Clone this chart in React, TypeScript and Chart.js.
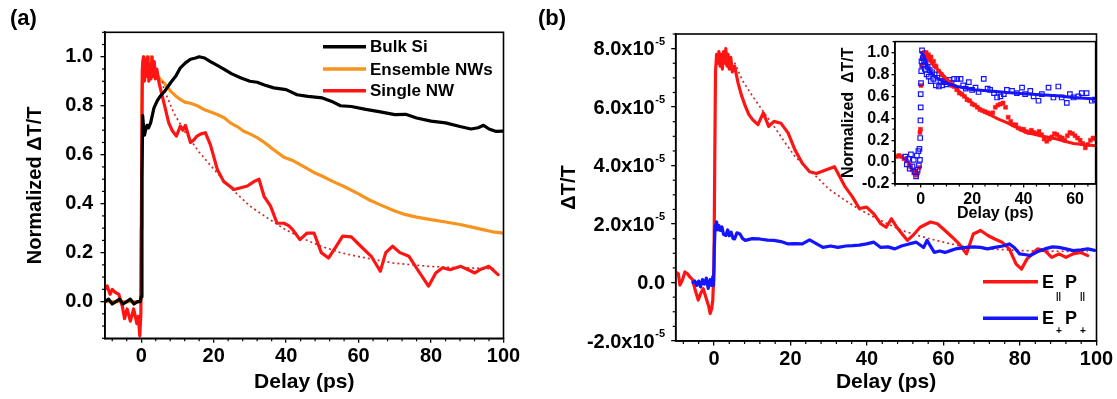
import React, { useEffect, useRef } from 'react';
import { Chart, registerables } from 'chart.js';

Chart.register(...registerables);

const FONT = "'Liberation Sans', Arial, Helvetica, sans-serif";

type Pt = [number, number];

// ---------------- Panel (a) data ----------------
const aXTicks = [0, 20, 40, 60, 80, 100];
const aYTicks = [0, 0.2, 0.4, 0.6, 0.8, 1.0];
const aLegend = ['Bulk Si', 'Ensemble NWs', 'Single NW'];

const bulkSi: Pt[] = [
  [-10, 0.0], [-9, 0.01], [-8, -0.01], [-7, 0.0], [-6, 0.01], [-5, -0.01], [-4, 0.0], [-3, 0.01],
  [-2, -0.01], [-1, 0.0], [-0.3, 0.0], [0, 0.02], [0.2, 0.5], [0.4, 0.76], [0.6, 0.72], [0.9, 0.68],
  [1.2, 0.7], [1.6, 0.72], [2.0, 0.71], [2.6, 0.73], [3.5, 0.79], [4.4, 0.82], [5.3, 0.84], [6.5, 0.86],
  [8.1, 0.894], [9.5, 0.92], [10.8, 0.955], [12.2, 0.975], [13.6, 0.99], [15.0, 0.995], [16.0, 1.0],
  [17.5, 0.995], [19.1, 0.98], [21, 0.965], [22.8, 0.95], [25, 0.93], [27.4, 0.914], [30, 0.9],
  [32, 0.896], [34, 0.885], [36.6, 0.873], [40, 0.866], [43, 0.845], [46, 0.838], [50, 0.832],
  [53, 0.815], [55, 0.8], [58, 0.797], [62, 0.785], [66, 0.775], [70, 0.764], [73, 0.765], [76, 0.75],
  [80, 0.737], [84, 0.73], [88, 0.715], [91, 0.705], [93, 0.71], [94.5, 0.72], [96, 0.705], [98, 0.695], [100, 0.696],
];

const ensembleNWs: Pt[] = [
  [-10, 0], [-5, 0], [-0.2, 0], [0, 0.3], [0.2, 0.8], [0.4, 0.98], [0.8, 1.0], [1.2, 0.96], [1.6, 1.0],
  [2.0, 0.97], [2.5, 1.0], [3.0, 0.96], [3.5, 0.94], [4.2, 0.93], [5.3, 0.907], [6.5, 0.89], [8.1, 0.86],
  [9.5, 0.84], [10.8, 0.826], [12, 0.815], [13.6, 0.81], [15.5, 0.8], [17.3, 0.785], [19, 0.775],
  [21, 0.764], [23, 0.75], [24.6, 0.73], [26.5, 0.715], [28.3, 0.696], [30, 0.685], [32, 0.67],
  [34, 0.65], [35.7, 0.63], [37.5, 0.61], [39.4, 0.59], [42, 0.575], [45, 0.55], [48, 0.525],
  [50, 0.512], [53, 0.49], [56, 0.47], [60, 0.44], [63, 0.415], [66, 0.395], [70, 0.37], [73, 0.355],
  [76, 0.345], [80, 0.335], [84, 0.325], [88, 0.315], [91, 0.305], [94, 0.295], [97, 0.285], [100, 0.28],
];

const singleNW: Pt[] = [
  [-10, 0.05], [-9.4, 0.064], [-8.6, 0.03], [-8, 0.05], [-7.1, 0.037], [-6.2, 0.03], [-5.2, -0.02],
  [-4.6, -0.07], [-3.9, -0.03], [-3.0, -0.08], [-2.1, -0.03], [-1.2, -0.09], [-0.8, -0.06], [-0.4, -0.14],
  [-0.1, -0.05], [0.1, 0.5], [0.3, 0.95], [0.6, 1.0], [0.9, 0.9], [1.2, 0.99], [1.5, 0.92], [1.8, 1.0],
  [2.1, 0.9], [2.4, 0.97], [2.7, 0.91], [3.0, 1.0], [3.3, 0.92], [3.6, 0.98], [3.9, 0.91], [4.3, 0.95],
  [4.9, 0.894], [5.8, 0.84], [6.7, 0.785], [7.6, 0.73], [8.5, 0.7], [9.7, 0.676], [10.8, 0.717],
  [11.5, 0.7], [12.2, 0.72], [13.6, 0.65], [14.5, 0.66], [15.4, 0.676], [16.5, 0.685], [17.7, 0.69],
  [19.1, 0.64], [21, 0.54], [22.8, 0.49], [25.6, 0.458], [27.5, 0.465], [29.3, 0.472], [31.1, 0.49],
  [32.5, 0.5], [33.9, 0.43], [35.7, 0.39], [37.5, 0.32], [39.4, 0.32], [40.7, 0.31], [41.8, 0.294],
  [43.8, 0.253], [45.8, 0.28], [47.7, 0.28], [49.7, 0.2], [51.7, 0.178], [53.6, 0.22], [55.6, 0.267],
  [58, 0.264], [60.6, 0.226], [63.5, 0.185], [66, 0.124], [67.5, 0.2], [69.4, 0.226], [71.4, 0.2],
  [73.9, 0.185], [76.3, 0.13], [79.3, 0.063], [81.3, 0.117], [83.2, 0.138], [85.2, 0.13], [88.2, 0.144],
  [90.1, 0.131], [92.1, 0.117], [93.6, 0.131], [96, 0.144], [98.5, 0.11],
];

const singleNWFit: Pt[] = [
  [5.8, 0.9], [6.3, 0.866], [9, 0.77], [12.2, 0.69], [16, 0.61], [20.1, 0.54], [25, 0.46], [30, 0.39],
  [35, 0.34], [39.8, 0.294], [45, 0.255], [49.7, 0.226], [55, 0.2], [59.6, 0.185], [65, 0.17],
  [69.4, 0.158], [75, 0.15], [79.3, 0.144], [85, 0.14], [89, 0.138], [98, 0.134],
];

// ---------------- Panel (b) data (values in units of 1e-5) ----------------
const B_UNIT = 1e-5;
const bXTicks = [0, 20, 40, 60, 80, 100];
const bYTicks = [-2, 0, 2, 4, 6, 8];

const parallelPol: Pt[] = [
  [-10, 0.36], [-9.3, 0.3], [-8.9, -0.09], [-8.2, 0.1], [-7.6, 0.36], [-6.9, 0.3], [-6.3, 0.19],
  [-5.6, 0.1], [-5.0, -0.21], [-4.1, -0.6], [-3.4, -0.35], [-2.8, -0.21], [-2.0, -0.55], [-1.4, -0.8],
  [-1.0, -1.06], [-0.6, -0.9], [-0.3, -0.6], [0, 0.5], [0.2, 4], [0.4, 7.2], [0.7, 7.8], [1.0, 7.5],
  [1.3, 7.9], [1.6, 7.4], [1.9, 7.8], [2.2, 7.3], [2.5, 7.9], [2.8, 7.5], [3.1, 8.0], [3.4, 7.4],
  [3.7, 7.8], [4.0, 7.3], [4.4, 7.7], [4.8, 7.2], [5.4, 7.4], [6.3, 6.83], [7.2, 6.4], [8.2, 6.03],
  [9.1, 5.75], [10.1, 5.57], [11.5, 5.4], [12.9, 5.8], [14.3, 5.34], [15.7, 5.51], [17.5, 5.45],
  [19.4, 5.11], [21.2, 4.53], [23.1, 4.08], [25, 3.79], [26.8, 3.73], [29.2, 3.85], [31.5, 3.96],
  [32.9, 3.62], [34.3, 3.27], [36.2, 2.93], [38, 2.53], [39.9, 2.58], [41.8, 2.35], [43.6, 2.01],
  [45, 1.89], [46.4, 2.18], [47.8, 1.89], [49.2, 1.66], [50.6, 1.44], [52, 1.61], [53.9, 1.89],
  [56.6, 2.07], [58.4, 2.01], [60.4, 1.78], [62.3, 1.55], [64.1, 1.32], [66, 0.98], [67.8, 1.66],
  [69.7, 1.78], [71.6, 1.61], [73.4, 1.49], [75.3, 1.38], [77.2, 1.15], [79, 0.63], [80.4, 0.46],
  [81.8, 0.8], [83.2, 0.98], [84.6, 1.15], [86.5, 1.09], [88.3, 0.86], [90.2, 0.98], [92, 0.86],
  [93.9, 0.98], [95.8, 1.03], [97.7, 0.92],
];

const parallelFit: Pt[] = [
  [5.4, 7.52], [7.5, 6.9], [10.1, 6.37], [12.9, 5.85], [15.7, 5.34], [18.5, 4.8], [21.2, 4.31],
  [24, 3.95], [26.8, 3.62], [30, 3.2], [34.3, 2.81], [38, 2.5], [41.8, 2.24], [45.5, 2.0], [49.2, 1.78],
  [53, 1.62], [56.6, 1.49], [60.4, 1.37], [64.1, 1.26], [68, 1.2], [71.6, 1.15], [76, 1.12],
  [80.9, 1.09], [90.2, 1.07], [97.7, 1.06],
];

const perpPol: Pt[] = [
  [-5.5, 0.0], [-5, 0.05], [-4.5, -0.1], [-4, 0.05], [-3.5, -0.15], [-3, 0.1], [-2.5, -0.05], [-2, 0.15],
  [-1.5, -0.2], [-1, 0.1], [-0.6, -0.1], [-0.3, 0.2], [-0.1, -0.1], [0.1, 1.2], [0.3, 1.9], [0.7, 2.07],
  [1.0, 1.8], [1.3, 1.95], [1.7, 1.78], [2.1, 1.9], [2.5, 1.65], [3.1, 1.61], [3.6, 1.8], [4.0, 1.6],
  [4.5, 1.72], [5.0, 1.5], [5.4, 1.49], [6.0, 1.7], [6.8, 1.66], [7.5, 1.5], [8.2, 1.44], [10, 1.5],
  [11.9, 1.49], [14, 1.45], [15.7, 1.44], [17.5, 1.4], [19.4, 1.32], [21, 1.33], [23.1, 1.32],
  [25, 1.46], [26.5, 1.35], [28.5, 1.2], [30.5, 1.25], [32.4, 1.2], [34.5, 1.25], [36.2, 1.26],
  [38, 1.28], [39.9, 1.32], [41.8, 1.38], [43.6, 1.2], [45.5, 1.22], [47.3, 1.15], [49, 1.25],
  [51, 1.32], [52.9, 1.38], [54.8, 1.2], [55.7, 1.44], [57.6, 1.03], [59, 1.08], [60.4, 1.03],
  [62, 1.1], [63.1, 1.15], [66, 1.2], [68, 1.22], [69.7, 1.2], [71.5, 1.15], [73.4, 1.2], [75.5, 1.25],
  [77.2, 1.32], [78.5, 1.2], [79.9, 0.98], [81.5, 0.95], [82.7, 0.92], [84.5, 1.05], [86.5, 1.15],
  [88.5, 1.22], [90.2, 1.2], [92, 1.15], [93.9, 1.09], [96, 1.12], [97.7, 1.15], [99.5, 1.1],
];

// ---------------- Inset data (normalized) ----------------
const insetXTicks = [0, 20, 40, 60];
const insetYTicks = [-0.2, 0, 0.2, 0.4, 0.6, 0.8, 1.0];

const insetParallel: Pt[] = [
  [-9.5, 0.05], [-8.5, 0.06], [-7.5, 0.05], [-6.5, 0.03], [-5.5, 0.01], [-4.5, -0.02], [-4, -0.04],
  [-3.3, -0.07], [-2.7, -0.1], [-2.1, -0.08], [-1.6, -0.12], [-1.1, -0.1], [-0.6, -0.05], [-0.3, 0.27],
  [-0.1, 0.3], [0.1, 0.7], [0.3, 0.88], [0.6, 0.95], [0.9, 0.98], [1.3, 1.0], [1.7, 0.97], [2.1, 1.0],
  [2.5, 0.96], [3.0, 0.98], [3.5, 0.94], [4.0, 0.96], [4.5, 0.91], [5.0, 0.92], [5.5, 0.88], [6.0, 0.87],
  [7.0, 0.83], [8.0, 0.8], [9.0, 0.77], [10, 0.75], [11, 0.72], [12, 0.7], [13, 0.69], [14, 0.66],
  [15, 0.63], [16, 0.62], [17, 0.6], [18, 0.57], [19, 0.56], [20, 0.53], [21, 0.52], [22, 0.5],
  [23, 0.48], [24, 0.47], [25, 0.46], [26, 0.45], [27, 0.44], [28, 0.45], [29, 0.5], [30, 0.52],
  [31, 0.53], [32, 0.54], [33, 0.5], [34, 0.41], [35, 0.37], [36, 0.34], [37, 0.34], [38, 0.31],
  [39, 0.3], [40, 0.3], [41, 0.28], [42, 0.27], [43, 0.29], [44, 0.27], [45, 0.26], [46, 0.28],
  [47, 0.25], [48, 0.21], [49, 0.19], [50, 0.21], [51, 0.23], [52, 0.26], [53, 0.25], [54, 0.23],
  [55, 0.22], [56, 0.2], [57, 0.24], [58, 0.27], [59, 0.26], [60, 0.24], [61, 0.22], [62, 0.2],
  [63, 0.17], [64, 0.13], [65, 0.16], [66, 0.2], [67, 0.22], [68, 0.21],
];

const insetParallelFit: Pt[] = [
  [0.5, 1.0], [1.3, 0.99], [3, 0.94], [5, 0.88], [7.7, 0.82], [10, 0.76], [12.9, 0.7], [16, 0.62],
  [20.6, 0.53], [24, 0.47], [27.1, 0.43], [30, 0.395], [33.5, 0.36], [37, 0.32], [40, 0.28],
  [43, 0.26], [46.5, 0.24], [50, 0.225], [52.9, 0.21], [56, 0.19], [59.4, 0.17], [63, 0.16], [68, 0.15],
];

const insetPerp: Pt[] = [
  [-6, 0.05], [-5.4, -0.02], [-4.8, 0.03], [-4.3, -0.06], [-3.8, 0.07], [-3.2, -0.04], [-2.7, 0.02],
  [-2.2, -0.09], [-1.8, -0.13], [-1.5, 0.06], [-1.2, -0.07], [-0.9, 0.1], [-0.7, -0.03], [-0.5, 0.12],
  [-0.3, 0.02], [-0.2, 0.22], [-0.1, 0.38], [0, 0.5], [0, 0.62], [0.1, 0.72], [0.2, 0.83], [0.3, 0.92],
  [0.5, 1.02], [0.8, 0.95], [1.0, 0.88], [1.3, 0.93], [1.6, 0.85], [1.9, 0.91], [2.3, 0.8], [2.7, 0.87],
  [3.1, 0.78], [3.5, 0.84], [3.9, 0.74], [4.4, 0.82], [4.9, 0.76], [5.4, 0.8], [5.9, 0.7], [6.5, 0.77],
  [7.1, 0.69], [7.7, 0.74], [8.4, 0.7], [9.0, 0.73], [10, 0.71], [11, 0.75], [12, 0.72], [13, 0.76],
  [14.2, 0.76], [15.5, 0.76], [16.5, 0.7], [17.5, 0.67], [18.7, 0.73], [20, 0.66], [21.3, 0.68],
  [22.5, 0.64], [24.5, 0.76], [26, 0.67], [27, 0.66], [28.5, 0.63], [29.7, 0.59], [31, 0.6],
  [32.3, 0.62], [33.5, 0.66], [35.5, 0.65], [37.4, 0.63], [39.4, 0.68], [40.6, 0.62], [42.6, 0.65],
  [43.9, 0.6], [45.8, 0.56], [47.1, 0.62], [49.7, 0.68], [51.6, 0.59], [53.5, 0.69], [54.8, 0.59],
  [56.8, 0.54], [58, 0.62], [59.4, 0.59], [61.3, 0.6], [62.6, 0.63], [64.5, 0.63], [66.5, 0.56], [67.7, 0.57],
];

const insetPerpFit: Pt[] = [
  [0.3, 1.0], [1.3, 0.97], [2.5, 0.88], [3.9, 0.82], [5.5, 0.78], [7.7, 0.75], [10, 0.72], [14.2, 0.69],
  [20.6, 0.66], [27.1, 0.65], [33.5, 0.635], [40, 0.625], [46.5, 0.615], [53, 0.605], [59.4, 0.59], [68, 0.575],
];

// ---------------- styles ----------------
const BLACK = '#000000';
const ORANGE = '#f7931e';
const RED = '#ff1414';
const RED_FIT = '#cf2a2a';
const BLUE = '#1414ff';

const toXY = (arr: Pt[], k = 1) => arr.map(([x, y]) => ({ x, y: y * k }));

const lineDs = (data: any[], color: string, width = 3, dash: number[] = []) => ({
  data,
  showLine: true,
  borderColor: color,
  backgroundColor: color,
  borderWidth: width,
  borderDash: dash,
  borderJoinStyle: 'round',
  borderCapStyle: dash.length ? 'butt' : 'round',
  pointRadius: 0,
  pointHoverRadius: 0,
  tension: 0,
});

const markerDs = (data: any[], color: string, filled: boolean, r: number) => ({
  data,
  showLine: false,
  pointStyle: 'rect',
  pointRadius: r,
  pointHoverRadius: r,
  pointBorderWidth: filled ? 0.5 : 1.2,
  pointBorderColor: color,
  pointBackgroundColor: filled ? color : 'rgba(255,255,255,0)',
});

interface Spec {
  key: string;
  left: number; top: number; width: number; height: number;
  area: { l: number; t: number; r: number; b: number };
  xMin: number; xMax: number; yMin: number; yMax: number;
  xTicks: number[]; yTicks: number[]; xMinor: number; yMinor: number;
  tickSize: number; xTitleSize: number; yTitleSize: number;
  xTitle: string; yTitle: string; xTitleY: number; yTitleX: number;
  tickLen: number; minorLen: number; xTickPad: number; yTickPad: number;
  frameWidth: number; yLabels: boolean; yFmt: (v: number) => string;
  fillArea?: boolean;
  datasets: any[];
  extra?: (chart: any, s: Spec) => void;
}

function makeConfig(s: Spec): any {
  const aT = s.area.t - s.top;
  const aL = s.area.l - s.left;
  const aR = s.area.r - s.left;
  const aB = s.area.b - s.top;
  const yTitlePad = s.yTitleX - s.left - (s.yTitleSize * 1.2) / 2;
  const xTitlePad = s.height - (s.xTitleY - s.top) - (s.xTitleSize * 1.2) / 2;
  const tickFont = { family: FONT, size: s.tickSize, weight: 'bold' };
  const isMajor = (v: number, ticks: number[], step: number) => ticks.some((t) => Math.abs(t - v) < step * 1e-3);

  const decor = {
    id: 'decor_' + s.key,
    beforeDraw(chart: any) {
      if (!s.fillArea) return;
      const { ctx, chartArea: ca } = chart;
      ctx.save();
      ctx.fillStyle = '#ffffff';
      ctx.fillRect(ca.left, ca.top, ca.right - ca.left, ca.bottom - ca.top);
      ctx.restore();
    },
    afterDraw(chart: any) {
      const { ctx, chartArea: ca } = chart;
      const xs = chart.scales.x;
      const ys = chart.scales.y;
      ctx.save();
      ctx.strokeStyle = '#000';
      ctx.lineWidth = s.frameWidth;
      ctx.strokeRect(ca.left, ca.top, ca.right - ca.left, ca.bottom - ca.top);
      ctx.lineWidth = 1.2;
      const xi0 = Math.ceil(s.xMin / s.xMinor - 1e-6);
      const xi1 = Math.floor(s.xMax / s.xMinor + 1e-6);
      for (let i = xi0; i <= xi1; i++) {
        const v = i * s.xMinor;
        if (isMajor(v, s.xTicks, s.xMinor)) continue;
        const p = xs.getPixelForValue(v);
        ctx.beginPath();
        ctx.moveTo(p, ca.bottom);
        ctx.lineTo(p, ca.bottom + s.minorLen);
        ctx.stroke();
      }
      const yi0 = Math.ceil(s.yMin / s.yMinor - 1e-6);
      const yi1 = Math.floor(s.yMax / s.yMinor + 1e-6);
      for (let i = yi0; i <= yi1; i++) {
        const v = i * s.yMinor;
        if (isMajor(v, s.yTicks, s.yMinor)) continue;
        const p = ys.getPixelForValue(v);
        ctx.beginPath();
        ctx.moveTo(ca.left, p);
        ctx.lineTo(ca.left - s.minorLen, p);
        ctx.stroke();
      }
      ctx.restore();
      if (s.extra) {
        ctx.save();
        ctx.translate(-s.left, -s.top);
        s.extra(chart, s);
        ctx.restore();
      }
    },
  };

  const grid = {
    display: true,
    drawOnChartArea: false,
    drawTicks: true,
    tickLength: s.tickLen,
    color: '#000',
    lineWidth: 1.3,
  };
  const border = { display: true, color: '#000', width: s.frameWidth };

  return {
    type: 'scatter',
    data: { datasets: s.datasets },
    options: {
      animation: false,
      responsive: false,
      maintainAspectRatio: false,
      devicePixelRatio: 1,
      events: [],
      layout: { padding: { left: 0, top: aT, right: s.width - aR, bottom: 0 } },
      plugins: { legend: { display: false }, tooltip: { enabled: false }, title: { display: false } },
      scales: {
        x: {
          type: 'linear',
          min: s.xMin,
          max: s.xMax,
          afterBuildTicks: (sc: any) => { sc.ticks = s.xTicks.map((v) => ({ value: v })); },
          afterFit: (sc: any) => { sc.height = s.height - aB; },
          ticks: {
            font: tickFont, color: '#000', padding: s.xTickPad, autoSkip: false, maxRotation: 0,
            callback: (v: any) => String(Math.round(Number(v))),
          },
          grid, border,
          title: {
            display: true, text: s.xTitle, color: '#000',
            font: { family: FONT, size: s.xTitleSize, weight: 'bold' },
            padding: { top: 0, bottom: xTitlePad },
          },
        },
        y: {
          type: 'linear',
          min: s.yMin,
          max: s.yMax,
          afterBuildTicks: (sc: any) => { sc.ticks = s.yTicks.map((v) => ({ value: v })); },
          afterFit: (sc: any) => { sc.width = aL; },
          ticks: {
            display: s.yLabels,
            font: tickFont, color: '#000', padding: s.yTickPad, autoSkip: false,
            callback: (v: any) => s.yFmt(Number(v)),
          },
          grid, border,
          title: {
            display: true, text: s.yTitle, color: '#000',
            font: { family: FONT, size: s.yTitleSize, weight: 'bold' },
            padding: { top: yTitlePad, bottom: 0 },
          },
        },
      },
    },
    plugins: [decor],
  };
}

// ---------- custom drawings (page coordinates) ----------
function drawLegendA(chart: any) {
  const ctx = chart.ctx as CanvasRenderingContext2D;
  const colors = [BLACK, ORANGE, RED];
  const rowsY = [46.7, 69, 90.7];
  aLegend.forEach((label, i) => {
    ctx.strokeStyle = colors[i];
    ctx.lineWidth = 3.5;
    ctx.lineCap = 'butt';
    ctx.beginPath();
    ctx.moveTo(323, rowsY[i]);
    ctx.lineTo(366, rowsY[i]);
    ctx.stroke();
    ctx.fillStyle = '#000';
    ctx.font = `bold 17px ${FONT}`;
    ctx.textAlign = 'left';
    ctx.textBaseline = 'middle';
    ctx.fillText(label, 370, rowsY[i] + 1);
  });
}

function drawLegendB(chart: any) {
  const ctx = chart.ctx as CanvasRenderingContext2D;
  const rows = [
    { color: RED, y: 281.7, base: 288, sub: '||', subBase: 298.5, subSize: 9 },
    { color: BLUE, y: 318.3, base: 324, sub: '+', subBase: 333.5, subSize: 10 },
  ];
  rows.forEach((r) => {
    ctx.strokeStyle = r.color;
    ctx.lineWidth = 3.5;
    ctx.beginPath();
    ctx.moveTo(983, r.y);
    ctx.lineTo(1038, r.y);
    ctx.stroke();
    ctx.fillStyle = '#000';
    ctx.textAlign = 'left';
    ctx.textBaseline = 'alphabetic';
    ctx.font = `bold 18px ${FONT}`;
    ctx.fillText('E', 1042, r.base);
    const eW = ctx.measureText('E').width;
    ctx.font = `bold 18px ${FONT}`;
    ctx.fillText('P', 1065, r.base);
    const pW = ctx.measureText('P').width;
    ctx.font = `bold ${r.subSize}px ${FONT}`;
    ctx.fillText(r.sub, 1042 + eW + 2, r.subBase);
    ctx.fillText(r.sub, 1065 + pW + 3, r.subBase);
  });
}

function drawSciLabelsB(chart: any) {
  const ctx = chart.ctx as CanvasRenderingContext2D;
  const ys = chart.scales.y;
  const xr = 665;
  ctx.fillStyle = '#000';
  ctx.textAlign = 'right';
  ctx.textBaseline = 'middle';
  ys.ticks.forEach((t: any) => {
    const y = ys.getPixelForValue(t.value);
    const m = t.value / B_UNIT;
    if (Math.abs(m) < 1e-6) {
      ctx.font = `bold 20px ${FONT}`;
      ctx.fillText('0.0', xr, y + 1);
    } else {
      ctx.font = `bold 11px ${FONT}`;
      ctx.fillText('-5', xr, y - 7);
      const w = ctx.measureText('-5').width;
      ctx.font = `bold 20px ${FONT}`;
      ctx.fillText(m.toFixed(1) + 'x10', xr - w - 0.5, y + 1);
    }
  });
}

// ---------- specs ----------
const specA: Spec = {
  key: 'a', left: 0, top: 0, width: 560, height: 399,
  area: { l: 105, t: 32.3, r: 503.5, b: 338.3 },
  xMin: -10, xMax: 100, yMin: -0.15, yMax: 1.1,
  xTicks: aXTicks, yTicks: aYTicks, xMinor: 4, yMinor: 0.05,
  tickSize: 20, xTitleSize: 21, yTitleSize: 20,
  xTitle: 'Delay (ps)', yTitle: 'Normalized ΔT/T', xTitleY: 382.5, yTitleX: 35,
  tickLen: 4.5, minorLen: 3, xTickPad: 2, yTickPad: 7.5, frameWidth: 1.6,
  yLabels: true, yFmt: (v) => v.toFixed(1),
  datasets: [
    lineDs(toXY(bulkSi), BLACK, 3.2),
    lineDs(toXY(singleNWFit), RED_FIT, 1.7, [2, 3]),
    lineDs(toXY(singleNW), RED, 3.2),
    lineDs(toXY(ensembleNWs), ORANGE, 3.2),
  ],
  extra: (chart) => drawLegendA(chart),
};

const specB: Spec = {
  key: 'b', left: 530, top: 0, width: 587, height: 399,
  area: { l: 675.7, t: 34, r: 1096.5, b: 341 },
  xMin: -10, xMax: 100, yMin: -2 * B_UNIT, yMax: 8.5 * B_UNIT,
  xTicks: bXTicks, yTicks: bYTicks.map((v) => v * B_UNIT), xMinor: 4, yMinor: 0.5 * B_UNIT,
  tickSize: 20, xTitleSize: 21, yTitleSize: 20,
  xTitle: 'Delay (ps)', yTitle: 'ΔT/T', xTitleY: 382.5, yTitleX: 569,
  tickLen: 4.5, minorLen: 3, xTickPad: 2, yTickPad: 7.5, frameWidth: 1.6,
  yLabels: false, yFmt: (v) => String(v),
  datasets: [
    lineDs(toXY(perpPol, B_UNIT), BLUE, 3.2),
    lineDs(toXY(parallelFit, B_UNIT), RED_FIT, 1.7, [2, 3]),
    lineDs(toXY(parallelPol, B_UNIT), RED, 3.2),
  ],
  extra: (chart) => { drawSciLabelsB(chart); drawLegendB(chart); },
};

const specInset: Spec = {
  key: 'inset', left: 835, top: 30, width: 265, height: 198,
  area: { l: 895, t: 34, r: 1096, b: 184 },
  xMin: -10, xMax: 68, yMin: -0.2, yMax: 1.1,
  xTicks: insetXTicks, yTicks: insetYTicks, xMinor: 5, yMinor: 0.1,
  tickSize: 16, xTitleSize: 16, yTitleSize: 16,
  xTitle: 'Delay (ps)', yTitle: 'Normalized  ΔT/T', xTitleY: 214, yTitleX: 848.5,
  tickLen: 3.5, minorLen: 2.5, xTickPad: 2, yTickPad: 2, frameWidth: 1.5,
  yLabels: true, yFmt: (v) => v.toFixed(1), fillArea: true,
  datasets: [
    lineDs(toXY(insetPerpFit), BLUE, 3),
    lineDs(toXY(insetParallelFit), RED, 3),
    markerDs(toXY(insetPerp), BLUE, false, 3.2),
    markerDs(toXY(insetParallel), RED, true, 2.8),
  ],
};

function ChartCanvas({ spec }: { spec: Spec }) {
  const ref = useRef<HTMLCanvasElement>(null);
  useEffect(() => {
    const chart = new Chart(ref.current as HTMLCanvasElement, makeConfig(spec));
    return () => chart.destroy();
  }, [spec]);
  return (
    <canvas
      ref={ref}
      width={spec.width}
      height={spec.height}
      style={{ position: 'absolute', left: spec.left, top: spec.top, width: spec.width, height: spec.height }}
    />
  );
}

const panelLabelStyle = (left: number): React.CSSProperties => ({
  position: 'absolute',
  left,
  top: 7,
  font: `bold 22px ${FONT}`,
  lineHeight: '22px',
  color: '#000',
  whiteSpace: 'nowrap',
});

export default function App() {
  return (
    <div style={{ position: 'fixed', left: 0, top: 0, width: 1117, height: 399, background: '#fff', overflow: 'hidden' }}>
      <ChartCanvas spec={specA} />
      <ChartCanvas spec={specB} />
      <ChartCanvas spec={specInset} />
      <div style={panelLabelStyle(10)}>(a)</div>
      <div style={panelLabelStyle(538)}>(b)</div>
    </div>
  );
}
